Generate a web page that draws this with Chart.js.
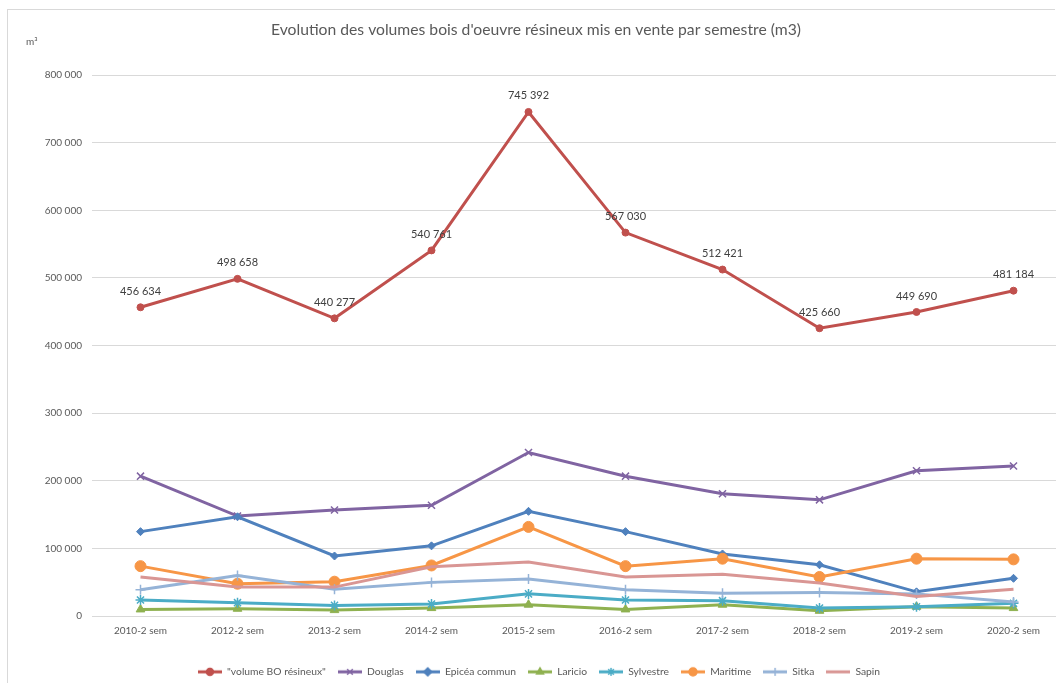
<!DOCTYPE html>
<html>
<head>
<meta charset="utf-8">
<script src="https://cdn.jsdelivr.net/npm/chart.js@4/dist/chart.umd.min.js"></script>
<style>
  html, body { margin: 0; padding: 0; background: #fff; overflow: hidden; width: 1056px; height: 684px; }
  #frame { position: absolute; left: 7px; top: 9px; width: 1047px; height: 673px; border: 1px solid #d9d9d9; border-right: none; border-bottom: none; }
  #chart { position: absolute; left: 0; top: 0; }
</style>
</head>
<body>
<div id="frame"></div>
<canvas id="chart" width="1056" height="684"></canvas>
<script>
const categories = ['2010-2 sem', '2012-2 sem', '2013-2 sem', '2014-2 sem', '2015-2 sem',
  '2016-2 sem', '2017-2 sem', '2018-2 sem', '2019-2 sem', '2020-2 sem']
const volumeBO = [456634, 498658, 440277, 540761, 745392, 567030, 512421, 425660, 449690, 481184]
const douglas = [207000, 148000, 157000, 164000, 242000, 207000, 181000, 172000, 215000, 222000]
const epicea = [125000, 147000, 89000, 104000, 155000, 125000, 92000, 76000, 36000, 56000]
const laricio = [10000, 11000, 9000, 12000, 17000, 10000, 17000, 8000, 14000, 12000]
const sylvestre = [24000, 20000, 16000, 18000, 33000, 24000, 23000, 12000, 14000, 19000]
const maritime = [74000, 48000, 51000, 75000, 132000, 74000, 85000, 58000, 85000, 84000]
const sitka = [39000, 60000, 40000, 50000, 55000, 39000, 34000, 35000, 33000, 21000]
const sapin = [58000, 43000, 43000, 73000, 80000, 58000, 62000, 49000, 29000, 40000]
const yTicks = [0, 100000, 200000, 300000, 400000, 500000, 600000, 700000, 800000]

const FONT = 'Lato, "Open Sans", sans-serif'
const fmt = v => String(v).replace(/\B(?=(\d{3})+(?!\d))/g, ' ')

// name, values, colour, marker, radius
const series = [
  ['"volume BO résineux"', volumeBO, '#c0504d', 'circle', 3.5],
  ['Douglas', douglas, '#8064a2', 'crossRot', 5],
  ['Epicéa commun', epicea, '#4f81bd', 'rectRot', 4],
  ['Laricio', laricio, '#8fb150', 'triangle', 5],
  ['Sylvestre', sylvestre, '#4bacc6', 'star', 5],
  ['Maritime', maritime, '#f79646', 'circle', 5.5],
  ['Sitka', sitka, '#95b3d7', 'cross', 5],
  ['Sapin', sapin, '#d99694', false, 0]
]

function legendIcon(color, style, radius) {
  const c = document.createElement('canvas')
  c.width = 24
  c.height = 12
  const ctx = c.getContext('2d')
  ctx.strokeStyle = color
  ctx.fillStyle = color
  ctx.lineWidth = 3
  ctx.beginPath()
  ctx.moveTo(0, 6)
  ctx.lineTo(24, 6)
  ctx.stroke()
  if (style) {
    ctx.lineWidth = 1.5
    Chart.helpers.drawPoint(ctx, {pointStyle: style, radius: Math.min(radius, 4), borderWidth: 1.5, rotation: 0}, 12, 6)
  }
  return c
}

const datasets = series.map((s, i) => ({
  label: s[0],
  data: s[1],
  borderColor: s[2],
  backgroundColor: s[2],
  borderWidth: 3,
  pointStyle: s[3],
  pointRadius: s[4],
  pointBorderWidth: s[3] === 'crossRot' || s[3] === 'cross' || s[3] === 'star' ? 1.5 : 1,
  tension: 0,
  order: -i,
  icon: legendIcon(s[2], s[3], s[4])
}))

const extras = {
  id: 'extras',
  afterLayout(chart) {
    chart.legend.left += 22
    // the original plot area runs a few px past the right edge of the picture
    const x = chart.scales.x
    x._endPixel = x.right + 6
    x._length = x._endPixel - x._startPixel
  },
  afterDatasetsDraw(chart) {
    const ctx = chart.ctx
    const meta = chart.getDatasetMeta(0)
    ctx.save()
    ctx.font = '11px ' + FONT
    ctx.fillStyle = '#404040'
    ctx.textAlign = 'center'
    ctx.textBaseline = 'middle'
    meta.data.forEach((pt, i) => {
      ctx.fillText(fmt(volumeBO[i]), pt.x, pt.y - 16)
    })
    ctx.restore()
  },
  afterDraw(chart) {
    const ctx = chart.ctx
    ctx.save()
    ctx.fillStyle = '#595959'
    ctx.textBaseline = 'middle'
    ctx.textAlign = 'center'
    ctx.font = '15.7px ' + FONT
    ctx.fillText("Evolution des volumes bois d'oeuvre résineux mis en vente par semestre (m3)", 536, 30)
    ctx.textAlign = 'left'
    ctx.font = '10px ' + FONT
    ctx.fillText('m³', 26, 42)
    ctx.restore()
  }
}

new Chart(document.getElementById('chart'), {
  type: 'line',
  data: { labels: categories, datasets: datasets },
  options: {
    responsive: false,
    animation: false,
    layout: { autoPadding: false, padding: { top: 75, left: 0, right: 0, bottom: -3 } },
    plugins: {
      title: { display: false },
      tooltip: { enabled: false },
      legend: {
        position: 'bottom',
        labels: {
          font: { family: FONT, size: 10.3 },
          color: '#595959',
          usePointStyle: true,
          pointStyleWidth: 24,
          boxHeight: 10,
          padding: 12,
          sort: (a, b) => a.datasetIndex - b.datasetIndex,
          generateLabels: chart => chart.data.datasets.map((d, i) => ({
            text: d.label,
            pointStyle: d.icon,
            fillStyle: d.borderColor,
            strokeStyle: d.borderColor,
            lineWidth: 0,
            fontColor: '#595959',
            datasetIndex: i,
            hidden: false
          }))
        }
      }
    },
    scales: {
      x: {
        offset: true,
        grid: { display: false, drawTicks: false },
        border: { display: false },
        ticks: { font: { family: FONT, size: 10 }, color: '#595959', padding: 9, maxRotation: 0 },
        afterFit: s => { s.height = 38.5 }
      },
      y: {
        min: 0,
        max: 800000,
        afterBuildTicks: s => { s.ticks = yTicks.map(v => ({ value: v })) },
        grid: { color: '#d9d9d9', lineWidth: 1, drawTicks: false },
        border: { display: false },
        ticks: { font: { family: FONT, size: 10 }, color: '#595959', padding: 10, callback: v => fmt(v) },
        afterFit: s => { s.width = 92 }
      }
    }
  },
  plugins: [extras]
})
</script>
</body>
</html>
